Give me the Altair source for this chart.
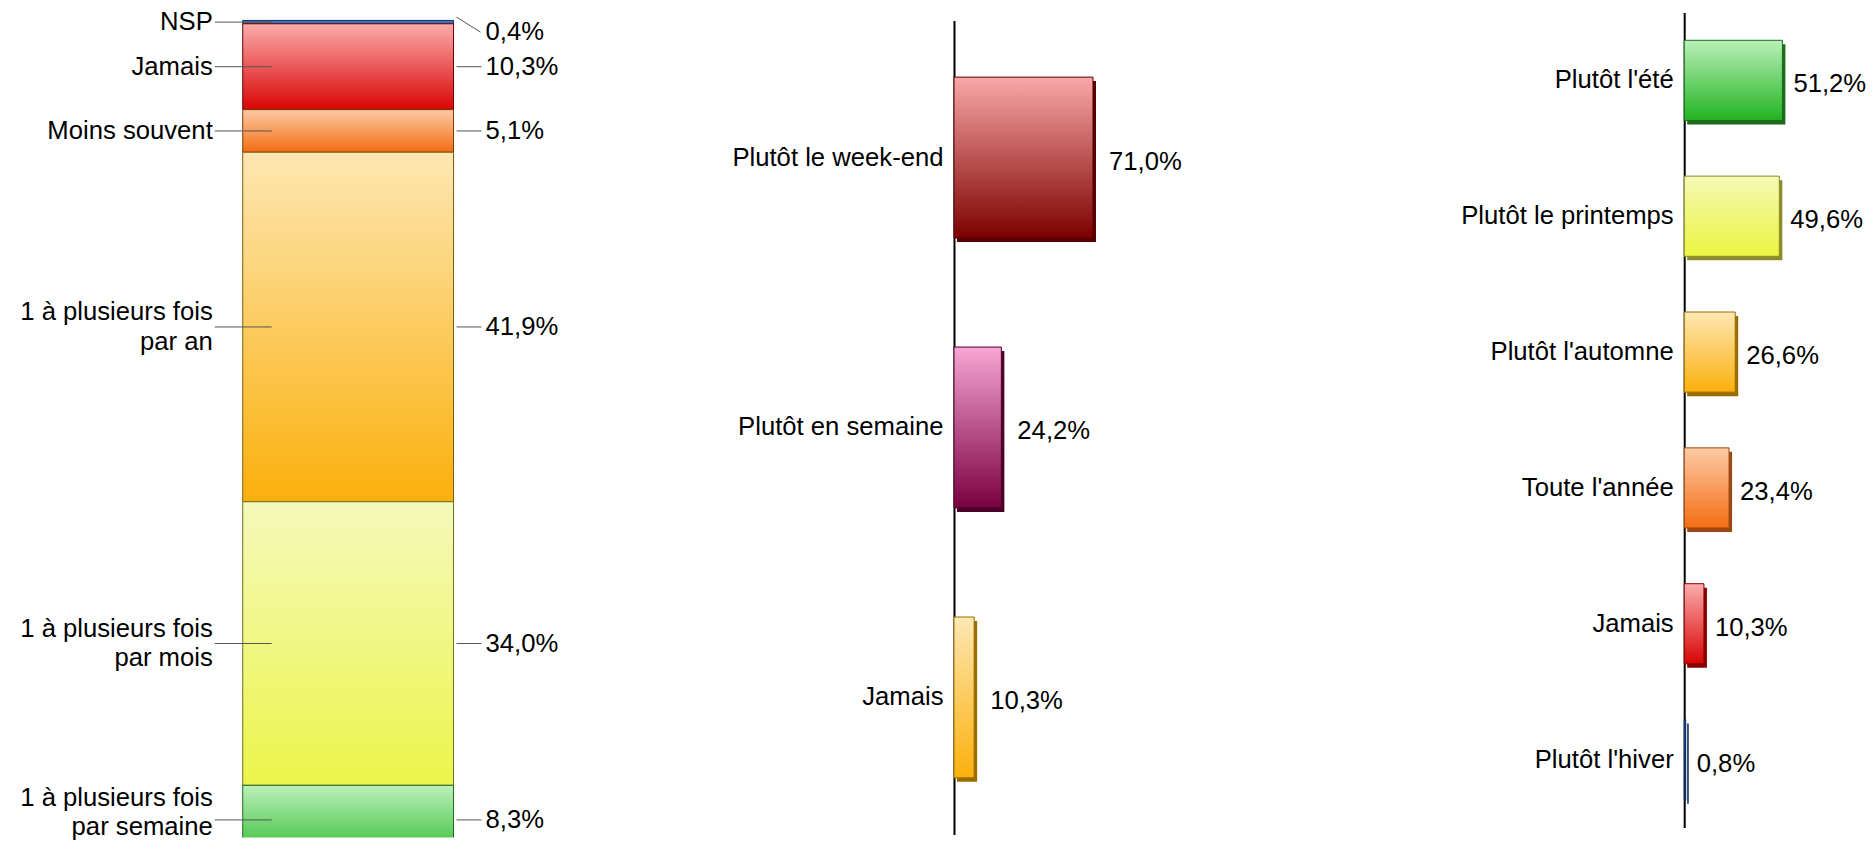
import altair as alt
import pandas as pd

FONT = "Liberation Sans"
FS = 25.7

# ---------------- data ----------------
freq_labels = ["NSP", "Jamais", "Moins souvent",
               "1 à plusieurs fois\u00a0\npar an",
               "1 à plusieurs fois\u00a0\npar mois",
               "1 à plusieurs fois\u00a0\npar semaine"]
freq_values = [0.4, 10.3, 5.1, 41.9, 34.0, 8.3]
freq_top = ["#4a8ad8", "#fbacac", "#fdcaa6", "#fde7b3", "#f5f9bb", "#bcf0bc"]
freq_bottom = ["#1c5aa8", "#d90404", "#f46d12", "#fbb00c", "#ebf54a", "#36be36"]
freq_edge = ["#0d2f5e", "#6a0000", "#7a3a08", "#7a5c10", "#6a6e20", "#1f6a1f"]

day_labels = ["Plutôt le week-end", "Plutôt en semaine", "Jamais"]
day_values = [71.0, 24.2, 10.3]
day_top = ["#faa8a8", "#f7a6d6", "#fde7b3"]
day_bottom = ["#7d0000", "#7a0040", "#fbb00c"]
day_side = ["#560000", "#4d0028", "#9a6c00"]

season_labels = ["Plutôt l'été", "Plutôt le printemps", "Plutôt l'automne",
                 "Toute l'année", "Jamais", "Plutôt l'hiver"]
season_values = [51.2, 49.6, 26.6, 23.4, 10.3, 0.8]
season_top = ["#b8f0b8", "#f5f9b5", "#fde7b3", "#fdcaa6", "#fbacac", "#3a7ccc"]
season_bottom = ["#22b422", "#ebf540", "#fbb00c", "#f46d12", "#d90404", "#123a72"]
season_side = ["#1a6b1a", "#8c8c28", "#9a6c00", "#9c4810", "#8a0000", "#0a2a5a"]


def fmt(v):
    return f"{v:.1f}".replace(".", ",") + "%"


def grad(top, bottom):
    return alt.Gradient(
        gradient="linear",
        stops=[alt.GradientStop(offset=0, color=top),
               alt.GradientStop(offset=1, color=bottom)],
        x1=0, x2=0, y1=0, y2=1)


txt_props = dict(font=FONT, fontSize=FS, color="#000000", baseline="middle")
H = 830

# ---------------- panel 1 : stacked bar ----------------
starts, ends = [], []
cum = 0.0
for v in freq_values:
    starts.append(cum)
    cum += v
    ends.append(cum)
df1 = pd.DataFrame({
    "k": list(range(len(freq_values))),
    "cat": freq_labels,
    "start": starts,
    "end": ends,
    "mid": [(a + b) / 2 for a, b in zip(starts, ends)],
    "txt": [fmt(v) for v in freq_values],
})

ys1 = alt.Scale(domain=[0, 100], range=[12, 847])
xs1 = alt.Scale(domain=[0, 1], range=[235, 446])
X0 = alt.X(datum=0, scale=xs1, axis=None)
X1 = alt.X(datum=1, scale=xs1, axis=None)
Ymid = alt.Y("mid:Q", scale=ys1, axis=None)

base1 = alt.Chart(df1)
layers1 = []
for i in range(len(freq_values)):
    layers1.append(
        base1.transform_filter(alt.datum.k == i)
        .mark_bar(fill=grad(freq_top[i], freq_bottom[i]), stroke=freq_edge[i],
                  strokeWidth=1, clip=True)
        .encode(x=X0, x2=alt.X2(datum=1),
                y=alt.Y("start:Q", scale=ys1, axis=None), y2="end:Q")
    )
layers1.append(
    base1.mark_rule(xOffset=-28, x2Offset=29, color="#555555", strokeWidth=1)
    .encode(x=X0, x2=alt.X2(datum=0), y=Ymid)
)
layers1.append(
    base1.transform_filter(alt.datum.k > 0)
    .mark_rule(xOffset=3, x2Offset=28, color="#555555", strokeWidth=1)
    .encode(x=X1, x2=alt.X2(datum=1), y=Ymid)
)
layers1.append(
    base1.transform_filter(alt.datum.k == 0)
    .mark_rule(xOffset=3, x2Offset=27, yOffset=-5, y2Offset=10,
               color="#555555", strokeWidth=1)
    .encode(x=X1, x2=alt.X2(datum=1), y=Ymid, y2="mid:Q")
)
# single-line left labels
layers1.append(
    base1.transform_filter(alt.datum.k < 3)
    .mark_text(align="right", dx=-30, **txt_props)
    .encode(x=X0, y=Ymid, text="cat:N")
)
# two-line left labels (block centred on the leader line)
layers1.append(
    base1.transform_filter((alt.datum.k >= 3) & (alt.datum.k < 5))
    .mark_text(align="right", dx=-30, dy=-15, lineBreak="\n", lineHeight=30, **txt_props)
    .encode(x=X0, y=Ymid, text="cat:N")
)
layers1.append(
    base1.transform_filter(alt.datum.k == 5)
    .mark_text(align="right", dx=-30, dy=-22, lineBreak="\n", lineHeight=29, **txt_props)
    .encode(x=X0, y=Ymid, text="cat:N")
)
layers1.append(
    base1.transform_filter(alt.datum.k > 0)
    .mark_text(align="left", dx=32, **txt_props)
    .encode(x=X1, y=Ymid, text="txt:N")
)
layers1.append(
    base1.transform_filter(alt.datum.k == 0)
    .mark_text(align="left", dx=32, dy=10, **txt_props)
    .encode(x=X1, y=Ymid, text="txt:N")
)
panel1 = alt.layer(*layers1).properties(width=947, height=H)


# ---------------- horizontal bar panels ----------------
def hpanel(labels, values, tops, bottoms, sides, yrange, pin, pout, xr, width, vdx):
    df = pd.DataFrame({"k": list(range(len(values))), "cat": labels,
                       "value": values, "txt": [fmt(v) for v in values]})
    Y = alt.Y("cat:N", sort=labels,
              scale=alt.Scale(range=yrange, paddingInner=pin, paddingOuter=pout),
              axis=alt.Axis(title=None, ticks=False, grid=False, domainColor="#000000",
                            domainWidth=2, labelFont=FONT, labelFontSize=FS,
                            labelColor="#000000", labelPadding=11, labelLimit=600))
    X = alt.X("value:Q", scale=alt.Scale(domain=[0, 100], range=[0, xr]), axis=None)
    base = alt.Chart(df)
    layers = []
    for i in range(len(values)):
        sub = base.transform_filter(alt.datum.k == i)
        layers.append(sub.mark_bar(color=sides[i], xOffset=3, x2Offset=3,
                                   yOffset=4, y2Offset=4).encode(x=X, y=Y))
        layers.append(sub.mark_bar(fill=grad(tops[i], bottoms[i]), stroke=sides[i],
                                   strokeWidth=1).encode(x=X, y=Y))
    layers.append(base.mark_text(align="left", dx=vdx, dy=4, **txt_props)
                  .encode(x=X, y=Y, text="txt:N"))
    return alt.layer(*layers).properties(width=width, height=H)


panel2 = hpanel(day_labels, day_values, day_top, day_bottom, day_side,
                [12, 827], 0.404, 0.21, 196, 731, 16)
panel3 = hpanel(season_labels, season_values, season_top, season_bottom, season_side,
                [4, 820], 0.41, 0.205, 192, 150, 11)

chart = (
    alt.hconcat(panel1, panel2, panel3, spacing=0, bounds="flush")
    .properties(padding={"left": 0, "top": 0, "right": 0, "bottom": 0},
                background="#ffffff")
    .configure_view(stroke=None)
)

chart.save("out.html", embed_options={"renderer": "svg", "actions": False})
